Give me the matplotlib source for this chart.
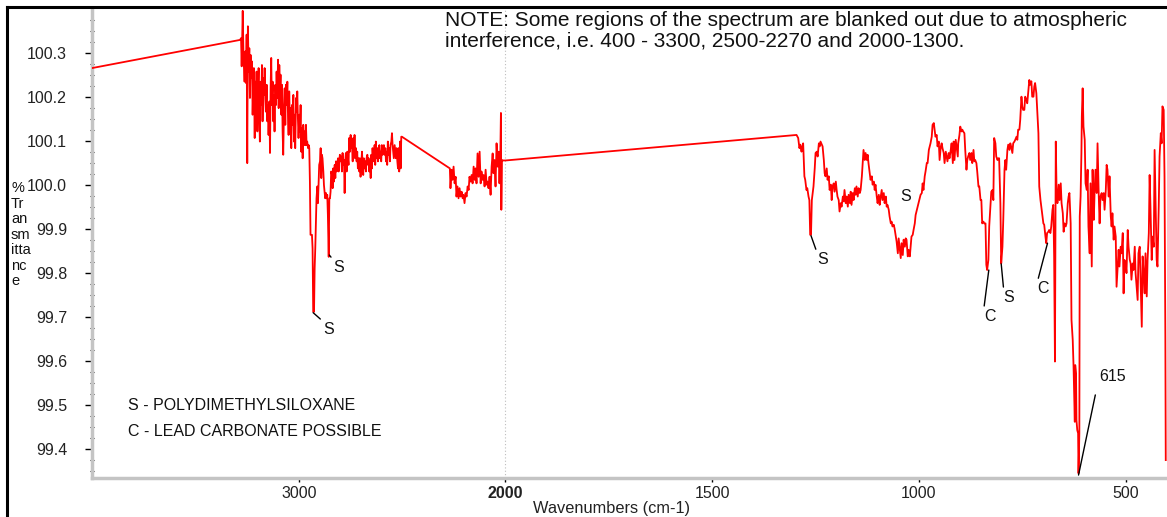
import numpy as np
import matplotlib
matplotlib.use("Agg")
import matplotlib.pyplot as plt
from matplotlib.ticker import FixedLocator, MultipleLocator
from matplotlib.lines import Line2D

plt.rcParams['font.family'] = ['Liberation Sans', 'DejaVu Sans']

# ---------------- data: (wavenumber cm-1, %Transmittance) ----------------
region_4000_2500 = [
    (4000, 100.266), (3284, 100.330), (3279, 100.334), (3276, 100.270), (3271, 100.396),
    (3267, 100.289), (3262, 100.235), (3258, 100.304), (3255, 100.232), (3252, 100.342),
    (3249, 100.050), (3246, 100.361), (3242, 100.258), (3239, 100.311), (3236, 100.198),
    (3233, 100.296), (3229, 100.243), (3226, 100.281), (3223, 100.160), (3220, 100.220),
    (3217, 100.266), (3213, 100.107), (3210, 100.235), (3207, 100.182), (3204, 100.258),
    (3200, 100.122), (3197, 100.220), (3194, 100.266), (3191, 100.167), (3188, 100.099),
    (3184, 100.235), (3181, 100.182), (3178, 100.273), (3175, 100.145), (3171, 100.243),
    (3168, 100.205), (3165, 100.266), (3162, 100.198), (3159, 100.167), (3155, 100.228),
    (3152, 100.145), (3149, 100.182), (3146, 100.114), (3142, 100.190), (3139, 100.073),
    (3136, 100.220), (3133, 100.289), (3130, 100.182), (3126, 100.235), (3123, 100.145),
    (3120, 100.205), (3117, 100.122), (3113, 100.228), (3110, 100.182), (3107, 100.258),
    (3104, 100.198), (3100, 100.285), (3097, 100.175), (3094, 100.273), (3091, 100.213),
    (3088, 100.251), (3084, 100.160), (3081, 100.228), (3078, 100.122), (3075, 100.069),
    (3071, 100.182), (3068, 100.220), (3065, 100.137), (3062, 100.228), (3059, 100.182),
    (3055, 100.235), (3052, 100.160), (3049, 100.114), (3046, 100.213), (3042, 100.122),
    (3039, 100.175), (3036, 100.084), (3033, 100.182), (3030, 100.137), (3026, 100.205),
    (3023, 100.099), (3020, 100.160), (3017, 100.084), (3013, 100.198), (3010, 100.167),
    (3007, 100.213), (3004, 100.152), (3001, 100.107), (2997, 100.160), (2994, 100.122),
    (2991, 100.182), (2988, 100.076), (2984, 100.129), (2981, 100.061), (2978, 100.137),
    (2975, 100.091), (2972, 100.122), (2968, 100.091), (2965, 100.137), (2962, 100.091),
    (2959, 100.099), (2955, 100.084), (2952, 100.091), (2949, 100.084), (2946, 100.008),
    (2943, 99.887), (2936, 99.887), (2933, 99.856), (2930, 99.712), (2926, 99.712),
    (2923, 99.811), (2920, 99.856), (2917, 99.913), (2914, 99.970), (2910, 99.997),
    (2907, 99.959), (2904, 100.000), (2901, 100.046), (2897, 100.054), (2894, 100.084),
    (2891, 100.016), (2888, 100.069), (2885, 100.061), (2881, 100.031), (2878, 100.000),
    (2875, 99.985), (2872, 99.970), (2868, 99.982), (2865, 99.970), (2862, 99.978),
    (2859, 99.932), (2855, 99.837), (2852, 99.970), (2849, 99.970), (2846, 99.985),
    (2843, 100.031), (2839, 100.023), (2836, 99.993), (2833, 100.038), (2830, 100.008),
    (2826, 100.046), (2823, 100.016), (2820, 100.054), (2817, 100.031), (2814, 100.046),
    (2810, 100.061), (2807, 100.031), (2804, 100.054), (2801, 100.069), (2797, 100.054),
    (2794, 100.065), (2791, 100.031), (2788, 100.073), (2785, 100.046), (2781, 100.057),
    (2778, 99.982), (2775, 100.054), (2772, 100.073), (2768, 100.031), (2765, 100.076),
    (2762, 100.061), (2759, 100.046), (2756, 100.107), (2752, 100.076), (2749, 100.114),
    (2746, 100.084), (2743, 100.099), (2739, 100.054), (2736, 100.107), (2733, 100.065),
    (2730, 100.114), (2727, 100.061), (2723, 100.084), (2720, 100.054), (2717, 100.076),
    (2714, 100.038), (2710, 100.061), (2707, 100.031), (2704, 100.061), (2701, 100.019),
    (2697, 100.054), (2694, 100.076), (2691, 100.046), (2688, 100.023), (2685, 100.061),
    (2681, 100.038), (2678, 100.054), (2675, 100.031), (2672, 100.061), (2668, 100.069),
    (2665, 100.046), (2662, 100.061), (2659, 100.031), (2656, 100.054), (2652, 100.016),
    (2649, 100.069), (2646, 100.038), (2643, 100.084), (2639, 100.054), (2636, 100.069),
    (2633, 100.091), (2630, 100.046), (2627, 100.099), (2623, 100.061), (2620, 100.084),
    (2617, 100.054), (2614, 100.076), (2610, 100.091), (2607, 100.061), (2604, 100.076),
    (2601, 100.054), (2598, 100.091), (2594, 100.069), (2591, 100.076), (2588, 100.091),
    (2585, 100.069), (2581, 100.084), (2578, 100.054), (2575, 100.076), (2572, 100.046),
    (2569, 100.099), (2565, 100.069), (2562, 100.084), (2559, 100.054), (2556, 100.091),
    (2552, 100.099), (2549, 100.118), (2546, 100.091), (2543, 100.076), (2540, 100.061),
    (2536, 100.091), (2533, 100.076), (2530, 100.061), (2527, 100.084), (2523, 100.054),
    (2520, 100.038), (2517, 100.084), (2514, 100.031), (2510, 100.099), (2507, 100.038),
    (2504, 100.110), (2501, 100.110),
]

region_2270_2000 = [
    (2269, 100.038), (2266, 99.993), (2261, 100.035), (2256, 100.012), (2251, 100.042),
    (2246, 100.004), (2241, 100.019), (2237, 99.974), (2232, 99.997), (2227, 99.970),
    (2222, 99.993), (2217, 99.974), (2212, 99.985), (2207, 99.970), (2203, 99.978),
    (2198, 99.959), (2193, 99.982), (2188, 99.974), (2183, 99.997), (2178, 99.989),
    (2174, 100.019), (2169, 100.008), (2164, 100.023), (2159, 100.004), (2154, 100.042),
    (2149, 100.012), (2145, 100.038), (2140, 100.004), (2135, 100.072), (2130, 100.019),
    (2125, 100.076), (2120, 100.004), (2116, 100.031), (2111, 100.012), (2106, 100.023),
    (2101, 99.997), (2096, 100.035), (2091, 100.001), (2087, 100.008), (2082, 99.993),
    (2077, 100.019), (2072, 99.978), (2067, 100.042), (2062, 100.072), (2058, 100.027),
    (2053, 100.057), (2048, 99.997), (2043, 100.095), (2038, 100.042), (2033, 100.076),
    (2029, 100.004), (2025, 100.065), (2022, 100.164), (2020, 99.944), (2017, 100.057),
    (2011, 100.056), (2000, 100.056),
]

region_1300_905 = [
    (1296, 100.114), (1292, 100.107), (1289, 100.084), (1287, 100.092), (1284, 100.076),
    (1282, 100.088), (1280, 100.095), (1277, 100.020), (1275, 100.012), (1272, 99.989),
    (1270, 99.993), (1267, 99.974), (1265, 99.966), (1263, 99.887), (1261, 99.887),
    (1259, 99.966), (1257, 99.982), (1255, 99.997), (1252, 100.038), (1250, 100.073),
    (1247, 100.076), (1245, 100.065), (1242, 100.095), (1240, 100.088), (1238, 100.099),
    (1235, 100.092), (1233, 100.088), (1230, 100.057), (1228, 100.027), (1226, 100.020),
    (1223, 100.038), (1221, 100.012), (1218, 100.020), (1216, 99.989), (1213, 100.001),
    (1211, 99.966), (1209, 99.997), (1206, 100.004), (1204, 99.985), (1201, 100.008),
    (1199, 99.989), (1197, 99.974), (1194, 99.966), (1192, 99.940), (1189, 99.959),
    (1187, 99.951), (1184, 99.974), (1182, 99.963), (1180, 99.989), (1177, 99.959),
    (1175, 99.974), (1172, 99.951), (1170, 99.978), (1167, 99.959), (1165, 99.985),
    (1163, 99.955), (1160, 99.982), (1158, 99.966), (1155, 99.993), (1153, 99.978),
    (1151, 99.997), (1148, 99.974), (1146, 99.993), (1143, 99.982), (1141, 99.989),
    (1138, 100.020), (1136, 100.050), (1134, 100.080), (1131, 100.057), (1129, 100.073),
    (1126, 100.057), (1124, 100.069), (1122, 100.050), (1119, 100.027), (1117, 100.012),
    (1114, 100.020), (1112, 100.001), (1109, 100.008), (1107, 99.989), (1105, 100.001),
    (1102, 99.974), (1100, 99.959), (1097, 99.978), (1095, 99.955), (1093, 99.970),
    (1090, 99.989), (1088, 99.966), (1085, 99.982), (1083, 99.959), (1080, 99.974),
    (1078, 99.951), (1076, 99.955), (1073, 99.944), (1071, 99.929), (1068, 99.913),
    (1066, 99.917), (1064, 99.906), (1061, 99.910), (1059, 99.902), (1056, 99.883),
    (1054, 99.872), (1051, 99.845), (1049, 99.879), (1047, 99.860), (1044, 99.834),
    (1042, 99.868), (1039, 99.841), (1037, 99.876), (1034, 99.860), (1032, 99.879),
    (1030, 99.876), (1027, 99.838), (1025, 99.853), (1022, 99.838), (1020, 99.860),
    (1018, 99.883), (1015, 99.887), (1013, 99.898), (1010, 99.913), (1008, 99.932),
    (1005, 99.944), (1003, 99.951), (1001, 99.959), (998, 99.970), (996, 99.978),
    (993, 99.982), (991, 100.004), (989, 99.989), (986, 100.020), (984, 100.031),
    (981, 100.050), (979, 100.050), (976, 100.080), (974, 100.088), (972, 100.095),
    (969, 100.110), (967, 100.137), (964, 100.141), (962, 100.126), (960, 100.110),
    (957, 100.114), (955, 100.088), (952, 100.099), (950, 100.057), (947, 100.088),
    (945, 100.095), (943, 100.084), (940, 100.073), (938, 100.050), (935, 100.076),
    (933, 100.065), (931, 100.054), (928, 100.073), (926, 100.061), (923, 100.080),
    (921, 100.095), (918, 100.050), (916, 100.099), (914, 100.057), (911, 100.103),
    (909, 100.088), (906, 100.065),
]

region_905_691 = [
    (905, 100.095), (902, 100.114), (900, 100.133), (897, 100.122), (895, 100.126),
    (893, 100.122), (890, 100.118), (888, 100.080), (885, 100.035), (883, 100.057),
    (881, 100.065), (878, 100.073), (876, 100.057), (873, 100.073), (871, 100.050),
    (868, 100.080), (866, 100.054), (864, 100.057), (861, 100.050), (859, 100.031),
    (856, 99.997), (854, 99.997), (851, 99.966), (849, 99.966), (847, 99.913),
    (844, 99.917), (842, 99.913), (839, 99.913), (837, 99.819), (835, 99.807),
    (832, 99.830), (830, 99.906), (827, 99.951), (825, 99.985), (822, 99.989),
    (820, 99.966), (818, 100.107), (815, 100.095), (813, 100.065), (810, 100.057),
    (808, 100.061), (806, 100.061), (803, 99.959), (801, 99.822), (798, 99.860),
    (796, 99.921), (793, 100.035), (791, 100.057), (789, 100.035), (786, 100.080),
    (784, 100.092), (781, 100.080), (779, 100.095), (777, 100.088), (774, 100.073),
    (772, 100.095), (769, 100.099), (767, 100.103), (764, 100.110), (762, 100.103),
    (760, 100.126), (757, 100.126), (755, 100.148), (752, 100.201), (750, 100.179),
    (748, 100.171), (745, 100.171), (743, 100.201), (740, 100.194), (738, 100.186),
    (735, 100.217), (733, 100.239), (731, 100.228), (728, 100.236), (726, 100.201),
    (723, 100.201), (721, 100.224), (719, 100.232), (716, 100.209), (714, 100.171),
    (711, 100.118), (709, 99.997), (706, 99.966), (704, 99.951), (702, 99.936),
    (699, 99.913), (697, 99.910), (694, 99.883), (692, 99.868),
]

region_690_400 = [
    (690, 99.891), (687, 99.894), (685, 99.898), (682, 99.891), (680, 99.906),
    (677, 99.944), (675, 99.955), (673, 99.838), (671, 99.599), (669, 100.099),
    (667, 99.982), (665, 99.959), (662, 100.001), (660, 99.966), (657, 100.004),
    (655, 99.959), (652, 99.936), (650, 99.894), (648, 99.913), (645, 99.906),
    (643, 99.913), (640, 99.959), (638, 99.974), (636, 99.982), (633, 99.913),
    (631, 99.694), (628, 99.648), (626, 99.587), (623, 99.462), (622, 99.591),
    (620, 99.572), (619, 99.466), (617, 99.443), (615, 99.436), (614, 99.345),
    (612, 99.436), (611, 99.929), (609, 99.974), (607, 100.073), (606, 100.156),
    (604, 100.220), (602, 100.133), (599, 100.103), (597, 100.004), (594, 99.989),
    (592, 100.035), (590, 99.906), (587, 99.845), (585, 100.004), (582, 99.815),
    (580, 100.035), (577, 99.921), (575, 99.989), (573, 100.035), (570, 99.982),
    (568, 100.095), (565, 99.974), (563, 99.913), (561, 99.974), (558, 99.982),
    (556, 99.966), (553, 99.982), (551, 99.944), (548, 99.989), (546, 100.046),
    (544, 100.035), (541, 99.974), (539, 100.020), (536, 99.929), (534, 99.906),
    (532, 99.936), (529, 99.876), (527, 99.906), (524, 99.883), (522, 99.769),
    (519, 99.822), (517, 99.853), (515, 99.815), (512, 99.860), (510, 99.845),
    (507, 99.891), (505, 99.754), (503, 99.830), (500, 99.822), (498, 99.800),
    (495, 99.898), (493, 99.860), (490, 99.830), (488, 99.822), (486, 99.785),
    (483, 99.822), (481, 99.807), (478, 99.860), (476, 99.800), (473, 99.762),
    (471, 99.739), (469, 99.845), (466, 99.860), (464, 99.785), (461, 99.678),
    (459, 99.838), (457, 99.807), (454, 99.754), (452, 99.845), (449, 99.747),
    (447, 99.830), (444, 99.891), (442, 100.023), (440, 99.951), (437, 99.830),
    (435, 99.883), (432, 99.860), (430, 100.080), (428, 99.982), (425, 99.830),
    (423, 99.815), (420, 99.951), (418, 100.065), (415, 100.118), (413, 100.095),
    (411, 100.179), (408, 100.171), (406, 100.020), (404, 99.656), (403, 99.375),
]

x_major_ticks = [3000, 2000, 1500, 1000, 500]
x_major_labels = ["3000", "2000", "1500", "1000", "500"]
x_minor_ticks = [3800, 3600, 3400, 3200, 2800, 2600, 2400, 2200,
                 1900, 1800, 1700, 1600, 1400, 1300, 1200, 1100,
                 900, 800, 700, 600]
y_major_ticks = [99.4, 99.5, 99.6, 99.7, 99.8, 99.9, 100.0, 100.1, 100.2, 100.3]

# band labels: (text, peak point, label anchor)
band_labels = [
    ("S", (2930, 99.710), (2882, 99.690)),
    ("S", (2852, 99.841), (2833, 99.830)),
    ("S", (1261, 99.885), (1247, 99.848)),
    ("C", (831, 99.807), (843, 99.719)),
    ("S", (801, 99.821), (795, 99.762)),
    ("C", (689, 99.868), (713, 99.782)),
]

note_text = ("NOTE: Some regions of the spectrum are blanked out due to atmospheric\n"
             "interference, i.e. 400 - 3300, 2500-2270 and 2000-1300.")
key_lines = ["S - POLYDIMETHYLSILOXANE", "C - LEAD CARBONATE POSSIBLE"]

# ---------------- scale: 4000-2000 compressed x2 ----------------
def fwd(w):
    w = np.asarray(w, dtype=float)
    return np.where(w > 2000, 2000 + (w - 2000) / 2.0, w)


def inv(u):
    u = np.asarray(u, dtype=float)
    return np.where(u > 2000, 2000 + (u - 2000) * 2.0, u)


segments = [region_4000_2500, region_2270_2000, region_1300_905, region_905_691, region_690_400]
wn = np.array([p[0] for seg in segments for p in seg], dtype=float)
tr = np.array([p[1] for seg in segments for p in seg], dtype=float)

fig = plt.figure(figsize=(11.67, 5.17), dpi=100)
L, B, T = 92 / 1167, 1 - 477.7 / 517, 1 - 10 / 517
ax = fig.add_axes([L, B, 1 - L, T - B])
ax.set_xscale('function', functions=(fwd, inv))

ax.axvline(2000, color='#bdbdbd', ls=(0, (1, 2)), lw=0.8, zorder=0)
ax.plot(wn, tr, color='#ff0000', lw=1.3, zorder=3)

ax.set_xlim(4000, 400)
ax.set_ylim(99.335, 100.398)

for s in ('top', 'right'):
    ax.spines[s].set_visible(False)
for s in ('left', 'bottom'):
    ax.spines[s].set_color('#c4c4c4')
    ax.spines[s].set_linewidth(2.5)

ax.xaxis.set_major_locator(FixedLocator(x_major_ticks))
ax.xaxis.set_minor_locator(FixedLocator(x_minor_ticks))
ax.set_xticklabels(x_major_labels)
ax.yaxis.set_major_locator(FixedLocator(y_major_ticks))
ax.set_yticklabels([f"{v:.1f}" for v in y_major_ticks])
ax.yaxis.set_minor_locator(MultipleLocator(0.025))

ax.tick_params(axis='y', which='major', direction='out', length=5, width=1,
               color='black', pad=13, labelsize=11.5, labelcolor='#222222')
ax.tick_params(axis='y', which='minor', direction='inout', length=3, width=0.8, color='black')
ax.tick_params(axis='x', which='major', direction='out', length=3, width=1,
               color='black', pad=3, labelsize=11.5, labelcolor='#222222')
ax.tick_params(axis='x', which='minor', direction='inout', length=2, width=0.8, color='black')
for lbl in ax.get_xticklabels():
    if lbl.get_text() == "2000":
        lbl.set_fontweight('bold')

ax.set_xlabel("Wavenumbers (cm-1)", fontsize=11.8, color='#222222')
ax.xaxis.set_label_coords(0.4837, -0.049)

for text, pt, pos in band_labels:
    ax.annotate(text, xy=pt, xytext=pos, textcoords='data', ha='left', va='top',
                fontsize=11.5, color='#111111',
                arrowprops=dict(arrowstyle='-', color='black', lw=1.0,
                                shrinkA=0, shrinkB=0, relpos=(0, 1)))
ax.text(1033, 99.973, "S", fontsize=11.5, ha='center', va='center', color='#111111')
ax.annotate("615", xy=(614, 99.341), xytext=(564, 99.565), textcoords='data',
            ha='left', va='center', fontsize=11.5, color='#111111',
            arrowprops=dict(arrowstyle='-', color='black', lw=1.0,
                            shrinkA=6, shrinkB=0, relpos=(0, 0.5)))

ax.text(3824, 99.500, key_lines[0], fontsize=11.5, ha='left', va='center', color='#111111')
ax.text(3824, 99.441, key_lines[1], fontsize=11.5, ha='left', va='center', color='#111111')

fig.text(445 / 1167, 1 - 11 / 517, note_text, fontsize=15, ha='left', va='top',
         linespacing=1.12, color='#111111')
fig.text(11 / 1167, 1 - 181 / 517, "%\nTr\nan\nsm\nitta\nnc\ne", fontsize=10.5,
         ha='left', va='top', linespacing=1.14, color='#111111')

# outer frame (left and top edges visible)
fig.add_artist(Line2D([6.5 / 1167, 6.5 / 1167], [0, 1 - 6.5 / 517], color='black',
                      lw=2.2, transform=fig.transFigure))
fig.add_artist(Line2D([6.5 / 1167, 1], [1 - 6.5 / 517, 1 - 6.5 / 517], color='black',
                      lw=2.2, transform=fig.transFigure))

fig.savefig("out.png", dpi=100)
